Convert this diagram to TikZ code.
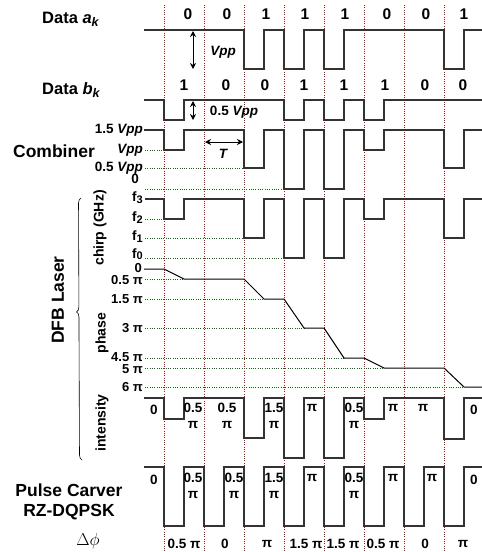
\documentclass[tikz,border=0pt]{standalone}
\usepackage{fontspec}
\setmainfont{Liberation Sans}
\usetikzlibrary{decorations.pathreplacing,arrows.meta}
\begin{document}
\begin{tikzpicture}[x=1pt,y=-1pt,
  wave/.style={line width=1.2pt, black!80, line join=miter},
  gridline/.style={red!85!black, line width=0.7pt, dash pattern=on 1pt off 1.3pt},
  lvl/.style={green!45!black, line width=0.8pt, dash pattern=on 1pt off 1.3pt},
  bit/.style={font=\fontsize{15.5}{16}\selectfont\bfseries, inner sep=0pt},
  lab/.style={font=\fontsize{13.5}{16}\selectfont\bfseries, inner sep=0pt, align=center},
  ylab/.style={lab, anchor=east},
  plab/.style={ylab, font=\fontsize{13}{14}\selectfont\bfseries},
  ttl/.style={font=\fontsize{17.5}{22}\selectfont\bfseries, inner sep=0pt, align=center},
  sidelab/.style={font=\fontsize{14}{16}\selectfont\bfseries, inner sep=0pt, rotate=90},
  dimarrow/.style={{Stealth[length=6pt,width=6pt]}-{Stealth[length=6pt,width=6pt]}, line width=0.9pt, black}
]
\useasboundingbox (0,0) rectangle (482,552);

% red timing grid
\foreach \x in {164,204,...,444} \draw[gridline] (\x,5) -- (\x,552);

% Titles
\node[font=\fontsize{16.5}{18}\selectfont\bfseries, anchor=base west, inner sep=0pt] (ta) at (42,23) {Data \textit{a}\raisebox{-3.5pt}{\fontsize{12.5}{12}\selectfont\textit{k}}};
\node[font=\fontsize{16.5}{18}\selectfont\bfseries, anchor=base west, inner sep=0pt] (tb) at (42,94) {Data \textit{b}\raisebox{-3.5pt}{\fontsize{12.5}{12}\selectfont\textit{k}}};
\node[ttl] (tcomb) at (54,151) {Combiner};
\node[ttl, rotate=90] (tdfb) at (58,300) {DFB Laser};
\node[ttl] (tpc) at (69,490) {Pulse Carver};
\node[ttl] (trz) at (69,512) {RZ-DQPSK};
\node[inner sep=0pt, font=\fontsize{19}{20}\selectfont] (tdphi) at (88,541) {$\Delta\phi$};
\node[sidelab] (tchirp) at (100,228) {chirp (GHz)};
\node[sidelab] (tphase) at (102,333) {phase};
\node[sidelab] (tint) at (102,423) {intensity};
\coordinate (brb) at (82,460);
\coordinate (brt) at (81,198);
\draw[line width=0.6pt, decorate, decoration={brace, amplitude=5pt, aspect=0.565}] (brb) -- (brt);

% bit labels
\foreach \x/\b [count=\i] in {188/0,227/0,266/1,305/1,345/1,387/0,426/0,464/1}
  \node[bit] (a\i) at (\x,14) {\b};
\foreach \x/\b [count=\i] in {184/1,226/0,265/0,304/1,344/1,385/1,425/0,463/0}
  \node[bit] (b\i) at (\x,85) {\b};

% Data a_k
\draw[wave] (144,30) -| (244,69) -| (264,30) -| (284,69) -| (304,30) -| (324,69) -| (344,30) -| (444,69) -| (464,30) -- (483,30);
% Data b_k
\draw[wave] (144,100) -| (164,120) -| (184,100) -| (284,120) -| (304,100) -| (324,120) -| (344,100) -| (364,120) -| (384,100) -- (483,100);

% Vpp arrows
\coordinate (v1t) at (193,31); \coordinate (v1b) at (193,69);
\draw[dimarrow] (v1t) -- (v1b);
\node[lab, font=\fontsize{13.5}{16}\selectfont\bfseries\itshape] (vpp) at (223,52) {Vpp};
\coordinate (v2t) at (193,101); \coordinate (v2b) at (193,120);
\draw[dimarrow] (v2t) -- (v2b);
\node[lab] (hvpp) at (234,112) {0.5 \textit{Vpp}};

% Combiner
\node[ylab] (c15) at (143,130) {1.5 \textit{Vpp}};
\node[ylab] (c10) at (143,150) {\textit{Vpp}};
\node[ylab] (c05) at (143,168) {0.5 \textit{Vpp}};
\node[ylab] (c00) at (139,179) {0};
\draw[lvl] (145,150) -- (164,150);
\draw[lvl] (145,168) -- (244,168);
\draw[lvl] (145,189) -- (284,189);
\draw[wave] (144,130) -| (164,150) -| (184,130) -| (244,168) -| (264,130) -| (284,189) -| (304,130) -| (324,189) -| (344,130) -| (364,150) -| (384,130) -| (444,168) -| (464,130) -- (483,130);
\coordinate (tl) at (205,142); \coordinate (tr) at (243,142);
\draw[dimarrow] (tl) -- (tr);
\node[lab, font=\fontsize{13.5}{16}\selectfont\bfseries\itshape] (tT) at (223,154) {T};

% Chirp
\node[ylab] (f3) at (143,198) {f\raisebox{-2pt}{\fontsize{11}{11}\selectfont 3}};
\node[ylab] (f2) at (143,218) {f\raisebox{-2pt}{\fontsize{11}{11}\selectfont 2}};
\node[ylab] (f1) at (143,237) {f\raisebox{-2pt}{\fontsize{11}{11}\selectfont 1}};
\node[ylab] (f0) at (143,254) {f\raisebox{-1.5pt}{\fontsize{11}{11}\selectfont 0}};
\draw[lvl] (145,219) -- (164,219);
\draw[lvl] (145,238) -- (244,238);
\draw[lvl] (145,258) -- (284,258);
\draw[wave] (145,199) -| (164,219) -| (184,199) -| (244,238) -| (264,199) -| (284,258) -| (304,199) -| (324,258) -| (344,199) -| (364,219) -| (384,199) -| (444,238) -| (464,199) -- (483,199);

% Phase
\node[plab] (p0) at (142,268.5) {0};
\node[plab] (p05) at (143,280) {0.5 π};
\node[plab] (p15) at (143,299) {1.5 π};
\node[plab] (p3) at (143,328) {3 π};
\node[plab] (p45) at (143,357) {4.5 π};
\node[plab] (p5) at (143,369) {5 π};
\node[plab] (p6) at (143,387) {6 π};
\draw[lvl] (145,279) -- (184,279);
\draw[lvl] (145,299) -- (264,299);
\draw[lvl] (145,328) -- (304,328);
\draw[lvl] (145,358) -- (344,358);
\draw[lvl] (145,368) -- (384,368);
\draw[lvl] (145,387) -- (464,387);
\draw[line width=1pt, black] (144,269) -- (164,269) -- (184,279) -- (244,279) -- (264,299) -- (284,299) -- (304,328) -- (324,328) -- (344,358) -- (364,358) -- (384,368) -- (444,368) -- (464,387) -- (483,387);

% Intensity
\draw[wave] (144,398) -| (164,419) -| (184,398) -| (244,438) -| (264,398) -| (284,458) -| (304,398) -| (324,458) -| (344,398) -| (364,419) -| (384,398) -| (444,439) -| (464,398) -- (483,398);
\node[lab] (i1) at (154,410) {0};
\node[lab, anchor=north] (i2) at (193,403) {0.5\\π};
\node[lab, anchor=north] (i3) at (227,403) {0.5\\π};
\node[lab, anchor=north] (i4) at (274,403) {1.5\\π};
\node[lab] (i5) at (312,408) {π};
\node[lab, anchor=north] (i6) at (354,403) {0.5\\π};
\node[lab] (i7) at (393,408) {π};
\node[lab] (i8) at (423,408) {π};
\node[lab] (i9) at (474,410) {0};

% Pulse carver
\draw[wave] (144,467) -- (164,467) foreach \i in {0,...,7} { -- ({164+40*\i},526) -- ({184+40*\i},526) -- ({184+40*\i},467) -- ({204+40*\i},467) };
\node[lab] (q1) at (154,480) {0};
\node[lab, anchor=north] (q2) at (193,473) {0.5\\π};
\node[lab, anchor=north] (q3) at (234,473) {0.5\\π};
\node[lab, anchor=north] (q4) at (274,473) {1.5\\π};
\node[lab] (q5) at (312,478) {π};
\node[lab, anchor=north] (q6) at (354,473) {0.5\\π};
\node[lab] (q7) at (393,478) {π};
\node[lab] (q8) at (432,478) {π};
\node[lab] (q9) at (474,480) {0};

% Delta phi row
\foreach \x/\t [count=\i] in {184/0.5 π,225/0,267/π,306/1.5 π,343/1.5 π,383/0.5 π,425/0,463/π}
  \node[lab] (d\i) at (\x,544) {\t};
\end{tikzpicture}
\end{document}
